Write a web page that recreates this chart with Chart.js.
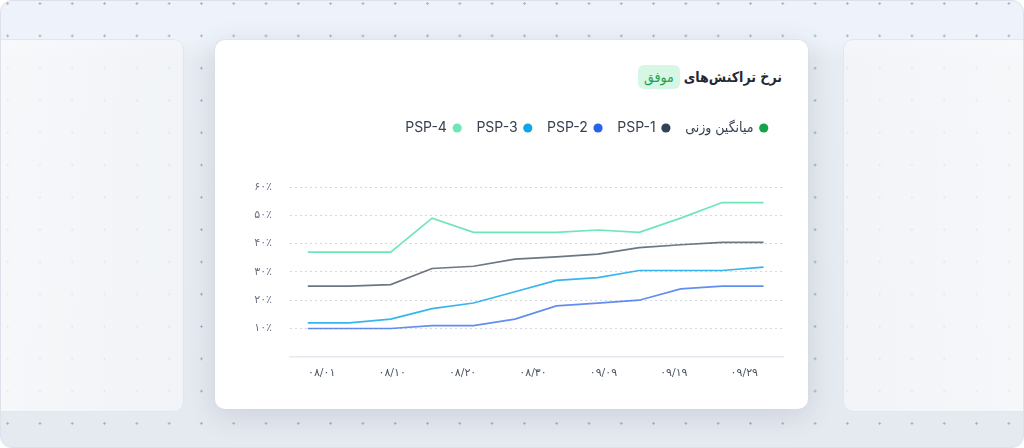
<!DOCTYPE html>
<html lang="fa">
<head>
<meta charset="utf-8">
<script src="https://cdn.jsdelivr.net/npm/chart.js@4.4.1/dist/chart.umd.min.js"></script>
<style>
  html, body { margin: 0; padding: 0; }
  body {
    width: 1024px; height: 448px; overflow: hidden; position: relative;
    background: #ffffff;
    font-family: Inter, "DejaVu Sans", sans-serif;
  }
  .frame {
    position: absolute; left: 0; top: 0; width: 1022px; height: 446px;
    border: 1px solid #dde2ea; border-radius: 12px; overflow: hidden;
    background-color: #e9edf4;
    background-image:
      radial-gradient(circle, rgba(140,150,168,0.75) 0.9px, transparent 1.4px),
      linear-gradient(180deg, #eef2fa 0px, #eef2fa 38px, #e7ebf2 60px, #e5e9f0 100%);
    background-size: 32.3px 32.3px, 100% 100%;
    background-position: -9.5px -13.6px, 0 0;
  }
  .panel {
    position: absolute; top: 38px; height: 371px;
    border: 1px solid #e3e7ed; border-radius: 10px;
  }
  .panel.left { left: -12px; width: 193px; background: linear-gradient(90deg, rgba(250,251,252,0.8), rgba(244,246,249,0.78)); }
  .panel.right { left: 842px; width: 200px; background: linear-gradient(90deg, rgba(246,247,250,0.78), rgba(250,251,252,0.8)); }
  .card {
    position: absolute; left: 215px; top: 40px; width: 593px; height: 369px;
    background: #ffffff; border-radius: 10px;
    box-shadow: 0 6px 28px rgba(71,85,105,0.16), 0 0 0 1px rgba(226,232,240,0.6);
  }
  .title {
    position: absolute; right: 26px; top: 25px; height: 24px;
    direction: rtl; display: flex; align-items: center; gap: 4px;
    font-family: "DejaVu Sans Condensed", "DejaVu Sans", sans-serif; white-space: nowrap;
  }
  .title .t { font-size: 14px; font-weight: bold; color: #1f2937; }
  .title .badge {
    background: #d5f7e3; color: #1f9d55; font-size: 14px;
    padding: 0 6px; height: 24px; line-height: 24px; border-radius: 6px;
  }
  .chartbox { position: absolute; left: 235px; top: 105px; width: 565px; height: 290px; }
</style>
</head>
<body>
<div class="frame">
  <div class="panel left"></div>
  <div class="panel right"></div>
</div>
<div class="card">
  <div class="title"><span class="t">نرخ تراکنش‌های</span><span class="badge">موفق</span></div>
</div>
<div class="chartbox"><canvas id="c" width="565" height="290"></canvas></div>
<script>
// ---- data ----
const pointIndex   = [0, 1, 2, 3, 4, 5, 6, 7, 8, 9, 10, 11];
const dateLabels   = ['۰۸/۰۱', '۰۸/۱۰', '۰۸/۲۰', '۰۸/۳۰', '۰۹/۰۹', '۰۹/۱۹', '۰۹/۲۹'];
const yTickLabels  = ['', '۱۰٪', '۲۰٪', '۳۰٪', '۴۰٪', '۵۰٪', '۶۰٪'];
const seriesNames  = ['میانگین وزنی', 'PSP-1', 'PSP-2', 'PSP-3', 'PSP-4'];
const weightedAvg  = [];
const psp1 = [25, 25, 25.5, 31.2, 32, 34.5, 35.3, 36.3, 38.6, 39.6, 40.4, 40.4];
const psp2 = [10, 10, 10, 11, 11, 13.3, 18, 19, 20, 24, 25, 25];
const psp3 = [12, 12, 13.3, 17, 19, 23, 27, 28, 30.5, 30.5, 30.5, 31.7];
const psp4 = [37, 37, 37, 49, 44, 44, 44, 44.8, 44, 49, 54.5, 54.5];

const dotColors  = ['#16a34a', '#334155', '#2563eb', '#0ea5e9', '#6ee7b7'];
const lineColors = ['#16a34a', 'rgba(51,65,85,0.72)', 'rgba(37,99,235,0.72)', 'rgba(14,165,233,0.82)', '#6ee7b7'];
const seriesData = [weightedAvg, psp1, psp2, psp3, psp4];

const datasets = seriesNames.map((name, i) => ({
  label: name,
  data: seriesData[i],
  xAxisID: 'x',
  yAxisID: 'y',
  borderColor: lineColors[i],
  backgroundColor: dotColors[i],
  borderWidth: 1.7,
  pointRadius: 0,
  pointHoverRadius: 0,
  tension: 0,
  fill: false
}));

const legendHeight = {
  id: 'legendHeight',
  beforeInit(chart) {
    const orig = chart.legend.fit;
    chart.legend.fit = function () { orig.call(this); this.height = 82; };
  }
};

new Chart(document.getElementById('c'), {
  type: 'line',
  data: { labels: pointIndex, datasets },
  plugins: [legendHeight],
  options: {
    responsive: false,
    animation: false,
    layout: { padding: { left: 0, right: 17, top: 0, bottom: 5 } },
    font: { family: 'Inter, "DejaVu Sans", sans-serif' },
    plugins: {
      tooltip: { enabled: false },
      legend: {
        position: 'top',
        align: 'start',
        rtl: true,
        textDirection: 'rtl',
        labels: {
          usePointStyle: true,
          pointStyle: 'circle',
          boxWidth: 6.5,
          boxHeight: 6.5,
          padding: 16,
          color: '#374151',
          font: { size: 14, family: 'Inter, "DejaVu Sans Condensed", "DejaVu Sans", sans-serif' },
          generateLabels(chart) {
            const items = Chart.defaults.plugins.legend.labels.generateLabels(chart);
            items.forEach((it, i) => { it.fillStyle = dotColors[i]; it.strokeStyle = dotColors[i]; it.lineWidth = 0; });
            return items;
          }
        }
      }
    },
    scales: {
      x: {
        type: 'linear',
        position: 'bottom',
        display: false,
        min: -0.43,
        max: 11.47
      },
      x2: {
        type: 'category',
        position: 'bottom',
        labels: dateLabels,
        offset: true,
        grid: { display: false, drawTicks: false },
        border: { display: true, color: '#e5e8ee', width: 1.6 },
        ticks: {
          padding: 10,
          labelOffset: -3.5,
          maxRotation: 0,
          autoSkip: false,
          color: '#4b5563',
          font: { size: 11, family: '"DejaVu Sans", sans-serif' }
        }
      },
      y: {
        min: 0,
        max: 60,
        afterFit(scale) { scale.width = 55; },
        ticks: {
          stepSize: 10,
          padding: 18,
          color: '#6b7280',
          font: { size: 11, family: '"DejaVu Sans", sans-serif' },
          callback: (v, i) => yTickLabels[i]
        },
        grid: {
          drawTicks: false,
          lineWidth: 1,
          color: (ctx) => (ctx.tick && ctx.tick.value === 0) ? 'rgba(0,0,0,0)' : '#d4d8df'
        },
        border: { display: false, dash: [2, 3] }
      }
    }
  }
});
</script>
</body>
</html>
